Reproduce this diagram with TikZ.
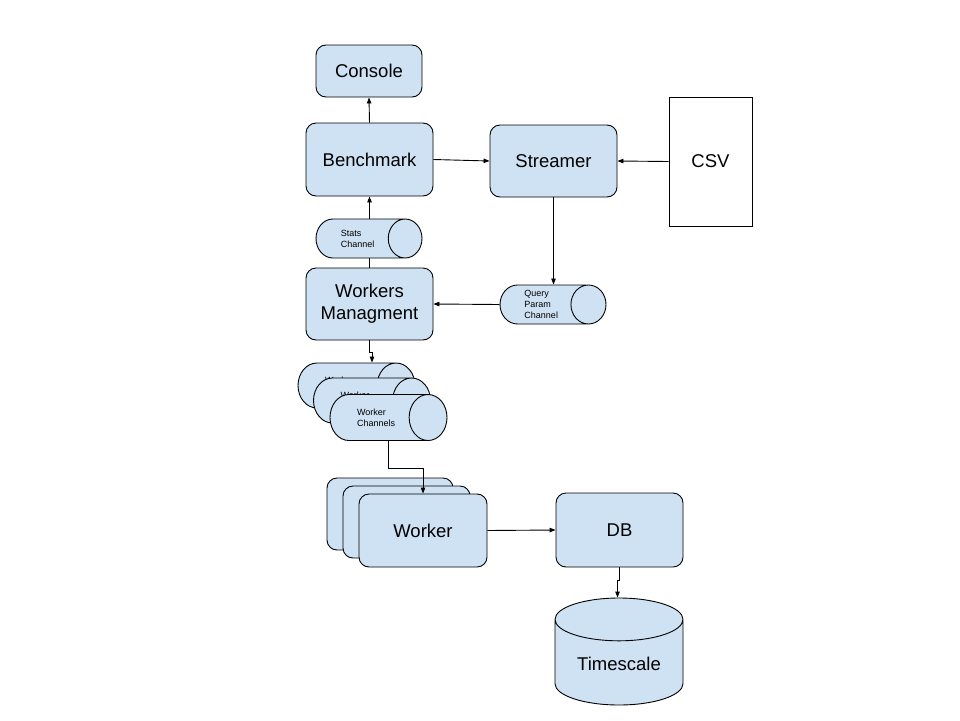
\documentclass[tikz,border=0pt]{standalone}
\usepackage{fontspec}
\setmainfont{Liberation Sans}
\usetikzlibrary{shapes.geometric, arrows.meta, positioning}
\definecolor{boxblue}{HTML}{CFE2F3}

\begin{document}
\begin{tikzpicture}[x=1pt, y=-1pt,
  box/.style={draw, rounded corners=10pt, fill=boxblue, line width=0.9pt, align=center, inner sep=0pt, font=\fontsize{18.5}{22}\selectfont},
  chan/.style={draw, cylinder, anchor=shape center, shape aspect=1.5, fill=boxblue, line width=0.9pt, align=left, inner sep=1pt, font=\fontsize{9}{10.8}\selectfont},
  arr/.style={-{Triangle[length=6pt, width=4.5pt]}, line width=0.9pt}]
  \useasboundingbox (0,0) rectangle (960,720);

  % Top row
  \node[box, minimum width=106pt, minimum height=52pt] (console) at (369,71) {Console};
  \node[box, minimum width=127pt, minimum height=73pt] (bench) at (369.5,159.5) {Benchmark};
  \node[box, minimum width=127pt, minimum height=72pt] (streamer) at (553.5,161) {Streamer};
  \node[draw, fill=white, line width=0.9pt, minimum width=83pt, minimum height=129pt, font=\fontsize{18.5}{22}\selectfont] (csv) at (710.5,161.5) {CSV};

  % Channels to the workers managment
  \node[chan, shape aspect=1.76, minimum height=106pt, minimum width=39pt] (stats) at (369,238.5) {Stats\\Channel};
  \node[box, minimum width=127pt, minimum height=72pt] (wm) at (369.5,304) {Workers\\Managment};
  \node[chan, shape aspect=1.17, minimum height=106pt, minimum width=39pt] (qp) at (553,304.5) {Query\\Param\\Channel};

  % Worker channels (stacked)
  \node[chan, shape aspect=1.95, minimum height=117pt, minimum width=45pt] (wc3) at (356.5,385.5) {Worker\\Channels};
  \node[chan, shape aspect=1.95, minimum height=117pt, minimum width=45pt] (wc2) at (372,400.5) {Worker\\Channels};
  \node[chan, shape aspect=1.95, minimum height=117pt, minimum width=46pt] (wc1) at (388.5,417.5) {Worker\\Channels};

  % Workers (stacked)
  \node[box, minimum width=126pt, minimum height=72pt] (worker3) at (390,514) {};
  \node[box, minimum width=127pt, minimum height=72pt] (worker2) at (406.5,522) {};
  \node[box, minimum width=128pt, minimum height=73pt] (worker1) at (423,530.5) {Worker};

  % Storage
  \node[box, minimum width=127pt, minimum height=74pt] (db) at (619.5,530) {DB};
  \node[chan, shape border rotate=90, shape aspect=0.5, align=center, minimum height=107pt, minimum width=128pt, font=\fontsize{18.5}{22}\selectfont] (ts) at (619,651.5) {Timescale};

  % Connectors
  \draw[arr] (bench.north) -- (console.south);
  \draw[arr] (bench.south |- stats.north) -- (bench.south);
  \draw (wm.north) -- (wm.north |- stats.south);
  \draw[arr] (bench.east) -- (streamer.west);
  \draw[arr] (csv.west) -- (streamer.east);
  \draw[arr] (streamer.south) -- (streamer.south |- qp.north);
  \draw[arr] (qp.west) -- (wm.east);
  \draw[arr] (wm.south) -- ++(0,12) -| ([xshift=2.5pt]wm.south |- wc3.north);
  \draw[arr] (wc1.shape center |- wc1.south) -- ++(0,27) -| (worker1.north);
  \draw[arr] (worker1.east) -- (db.west);
  \draw[arr] (db.south) -- ++(0,13) -| ([xshift=-2pt]db.south |- ts.north);
\end{tikzpicture}
\end{document}
